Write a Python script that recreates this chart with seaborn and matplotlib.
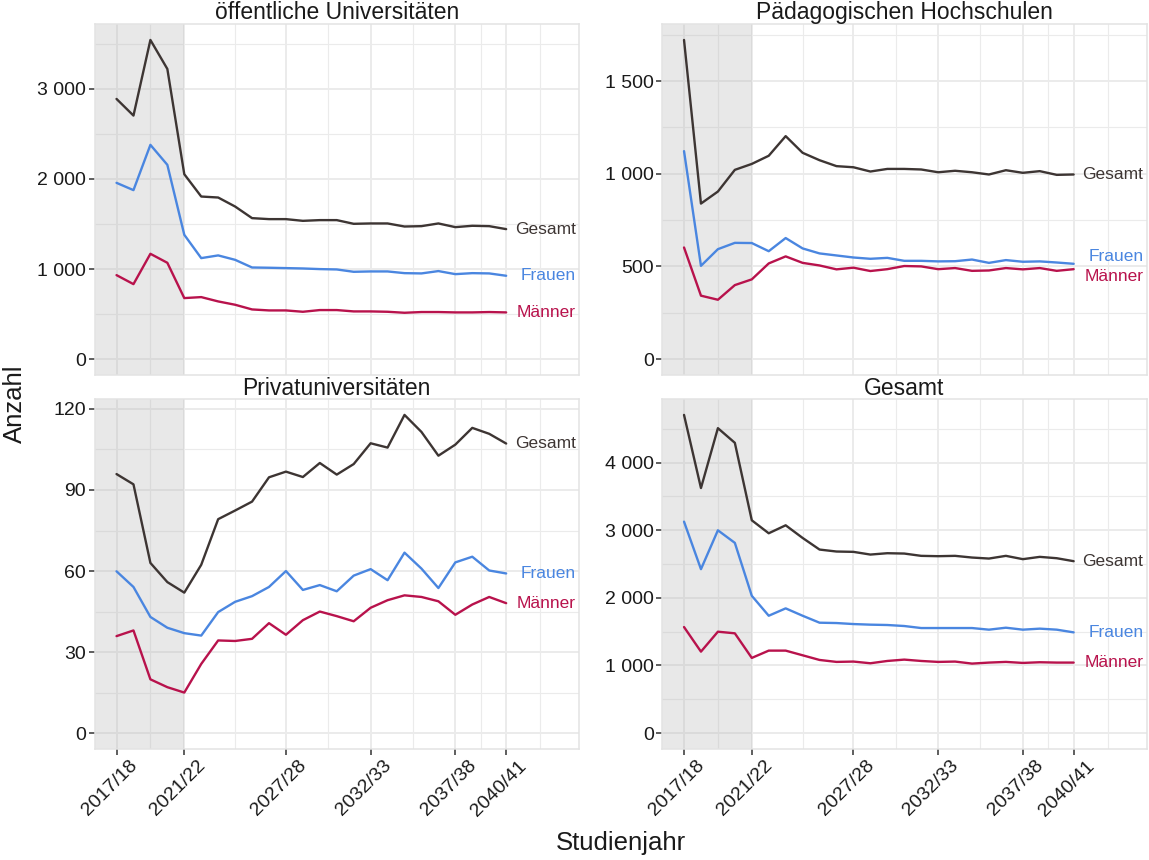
import numpy as np
import pandas as pd
import matplotlib
matplotlib.use("Agg")
import matplotlib.pyplot as plt
import matplotlib.transforms as mtransforms
import seaborn as sns

# Studienjahre (Startjahr), 2017/18 .. 2040/41
jahre = list(range(2017, 2041))
tick_jahre = [2017, 2021, 2027, 2032, 2037, 2040]
minor_jahre = [2019, 2024, 2029.5, 2034.5, 2038.5, 2042]

oeff_gesamt = [2889, 2704, 3544, 3222, 2053, 1805, 1794, 1694, 1565, 1554, 1554, 1535,
               1543, 1543, 1502, 1506, 1506, 1472, 1476, 1506, 1465, 1480, 1476, 1443]
oeff_frauen = [1957, 1876, 2379, 2157, 1380, 1121, 1151, 1102, 1017, 1014, 1010, 1006,
               999, 995, 969, 973, 973, 954, 951, 977, 943, 954, 951, 925]
oeff_maenner = [932, 832, 1169, 1069, 677, 688, 640, 603, 551, 540, 540, 525,
                544, 544, 529, 529, 525, 514, 522, 522, 518, 518, 522, 518]

ph_gesamt = [1722, 839, 904, 1021, 1053, 1097, 1203, 1113, 1073, 1041, 1035, 1012,
             1026, 1026, 1023, 1008, 1016, 1008, 996, 1019, 1005, 1014, 994, 996]
ph_frauen = [1122, 503, 593, 627, 626, 582, 653, 597, 570, 559, 548, 541,
             546, 530, 530, 527, 528, 537, 519, 534, 525, 527, 521, 514]
ph_maenner = [602, 342, 320, 399, 430, 516, 554, 519, 505, 484, 493, 475,
              485, 502, 500, 485, 491, 476, 478, 491, 484, 491, 476, 485]

priv_gesamt = [95.9, 92.1, 63.0, 55.9, 52.0, 62.3, 79.2, 82.4, 85.7, 94.7, 96.8, 94.8,
               100.0, 95.7, 99.6, 107.3, 105.7, 117.8, 111.5, 102.7, 106.8, 113.0, 110.8, 107.2]
priv_frauen = [59.9, 54.1, 43.0, 39.0, 37.0, 36.1, 44.8, 48.6, 50.7, 54.1, 60.0, 53.0,
               54.8, 52.5, 58.3, 60.7, 56.6, 66.8, 60.9, 53.7, 63.2, 65.3, 60.2, 59.1]
priv_maenner = [35.9, 38.0, 19.9, 17.0, 15.0, 25.6, 34.3, 34.1, 34.9, 40.7, 36.4, 41.8,
                45.0, 43.3, 41.4, 46.4, 49.2, 51.0, 50.4, 48.8, 43.8, 47.6, 50.4, 48.1]

ges_gesamt = [4707, 3625, 4511, 4294, 3148, 2956, 3074, 2887, 2715, 2686, 2681, 2641,
              2661, 2656, 2622, 2617, 2622, 2597, 2582, 2622, 2573, 2607, 2587, 2543]
ges_frauen = [3128, 2425, 3000, 2814, 2031, 1736, 1845, 1736, 1633, 1628, 1613, 1604,
              1599, 1584, 1554, 1554, 1554, 1554, 1530, 1559, 1530, 1545, 1530, 1490]
ges_maenner = [1569, 1205, 1500, 1476, 1112, 1220, 1220, 1151, 1082, 1053, 1058, 1033,
               1067, 1087, 1067, 1053, 1058, 1028, 1043, 1053, 1038, 1048, 1043, 1043]

panels = ["öffentliche Universitäten", "Pädagogischen Hochschulen",
          "Privatuniversitäten", "Gesamt"]
gruppen = ["Gesamt", "Frauen", "Männer"]
farben = {"Gesamt": "#3d3533", "Frauen": "#4a86e0", "Männer": "#b8124c"}

y_ticks = {
    "öffentliche Universitäten": [0, 1000, 2000, 3000],
    "Pädagogischen Hochschulen": [0, 500, 1000, 1500],
    "Privatuniversitäten": [0, 30, 60, 90, 120],
    "Gesamt": [0, 1000, 2000, 3000, 4000],
}

werte = {
    "öffentliche Universitäten": [oeff_gesamt, oeff_frauen, oeff_maenner],
    "Pädagogischen Hochschulen": [ph_gesamt, ph_frauen, ph_maenner],
    "Privatuniversitäten": [priv_gesamt, priv_frauen, priv_maenner],
    "Gesamt": [ges_gesamt, ges_frauen, ges_maenner],
}

rows = []
for p in panels:
    for g, vals in zip(gruppen, werte[p]):
        for j, v in zip(jahre, vals):
            rows.append({"panel": p, "gruppe": g, "jahr": j, "anzahl": v})
df = pd.DataFrame(rows)

sns.set_theme(style="white")
plt.rcParams["font.family"] = ["Liberation Sans", "DejaVu Sans"]

fig, axes = plt.subplots(2, 2, figsize=(11.49, 8.6), dpi=100)
W, H = 1149, 860
pos = [(94.5, 24, 579, 375), (662, 24, 1146.5, 375),
       (94.5, 399, 579, 749), (662, 399, 1146.5, 749)]

x_lo, x_hi = 2017 - 1.3, 2043 + 1.3

def fmt(v):
    return f"{v:,.0f}".replace(",", " ")

for ax, p, (l, t, r, b) in zip(axes.flat, panels, pos):
    ax.set_position([l / W, 1 - b / H, (r - l) / W, (b - t) / H])
    sub = df[df["panel"] == p]
    sns.lineplot(data=sub, x="jahr", y="anzahl", hue="gruppe", hue_order=gruppen,
                 palette=farben, linewidth=1.7, legend=False, ax=ax, zorder=3)

    ymax = sub["anzahl"].max()
    y_lo, y_hi = -0.05 * ymax, 1.05 * ymax
    ax.set_xlim(x_lo, x_hi)
    ax.set_ylim(y_lo, y_hi)

    # grid
    yt = y_ticks[p]
    step = yt[1] - yt[0]
    ymin_ticks = [v + step / 2 for v in yt if v + step / 2 < y_hi]
    for x in tick_jahre:
        ax.axvline(x, color="#ebebeb", lw=1.4, zorder=0.5)
    for x in minor_jahre:
        ax.axvline(x, color="#ebebeb", lw=0.8, zorder=0.5)
    for y in yt:
        ax.axhline(y, color="#ebebeb", lw=1.4, zorder=0.5)
    for y in ymin_ticks:
        ax.axhline(y, color="#ebebeb", lw=0.8, zorder=0.5)
    ax.grid(False)

    # Vergangenheit schattiert
    ax.axvspan(x_lo, 2021, color="#b3b3b3", alpha=0.3, lw=0, zorder=1.5)

    ax.set_yticks(yt)
    ax.set_yticklabels([fmt(v) for v in yt])
    ax.set_xticks(tick_jahre)
    ax.set_xlabel("")
    ax.set_ylabel("")
    ax.tick_params(axis="both", length=4, width=1.1, color="#333333",
                   labelsize=14, labelcolor="#1a1a1a", pad=2, left=True, bottom=True)
    for s in ax.spines.values():
        s.set_color("#e3e3e3")
        s.set_linewidth(1.1)
    ax.set_title(p, fontsize=16.5, color="#1a1a1a", pad=3)

    # Endbeschriftungen mit einfachem Abstoßen
    last = {g: vals[-1] for g, vals in zip(gruppen, werte[p])}
    order = sorted(gruppen, key=lambda g: last[g])
    ys = [last[g] for g in order]
    gap = 0.058 * (y_hi - y_lo)
    for _ in range(50):
        for i in range(len(ys) - 1):
            d = ys[i + 1] - ys[i]
            if d < gap:
                shift = (gap - d) / 2
                ys[i] -= shift
                ys[i + 1] += shift
    for g, y in zip(order, ys):
        ax.text(x_hi - 0.18, y, g, color=farben[g], fontsize=12.5,
                ha="right", va="center", zorder=4)

for ax in axes[0]:
    ax.tick_params(axis="x", bottom=False, labelbottom=False)
for ax in axes[1]:
    ax.set_xticklabels([f"{j}/{str(j + 1)[-2:]}" for j in tick_jahre])
    off = mtransforms.ScaledTranslation(12 / 100, 0, fig.dpi_scale_trans)
    for lab in ax.get_xticklabels():
        lab.set_rotation(45)
        lab.set_ha("right")
        lab.set_va("top")
        lab.set_rotation_mode("anchor")
        lab.set_transform(lab.get_transform() + off)

fig.text(0.54, 0.02, "Studienjahr", fontsize=18.5, ha="center", va="center", color="#1a1a1a")
fig.text(0.013, 0.53, "Anzahl", fontsize=18.5, ha="center", va="center", rotation=90,
         color="#1a1a1a")

fig.savefig("out.png", dpi=100)
